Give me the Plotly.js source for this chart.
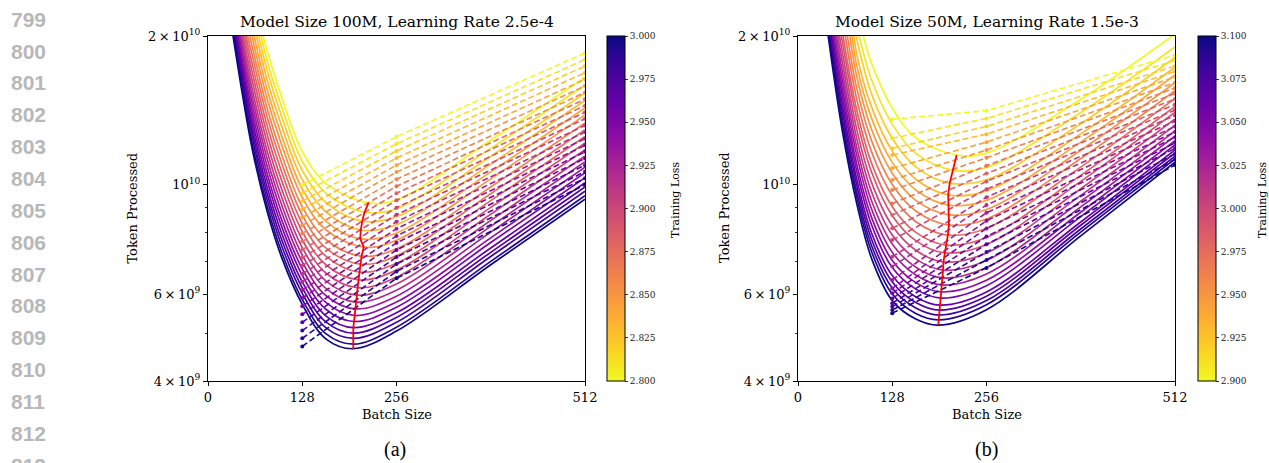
<!DOCTYPE html>
<html><head><meta charset="utf-8">
<script src="https://cdn.plot.ly/plotly-3.0.1.min.js"></script>
<style>html,body{margin:0;padding:0;background:#fff;}#chart{width:1269px;height:463px;}</style>
</head><body><div id="chart"></div>
<script>
// ---------------- DATA (token counts in units of 1e9) ----------------
const lossA = [2.80,2.81,2.82,2.83,2.84,2.85,2.86,2.87,2.88,2.89,2.90,2.91,2.92,2.93,2.94,2.95,2.96,2.97,2.98,2.99,3.00];
const lossB = [2.90,2.91,2.92,2.93,2.94,2.95,2.96,2.97,2.98,2.99,3.00,3.01,3.02,3.03,3.04,3.05,3.06,3.07,3.08,3.09,3.10];

// batch sizes at which the fitted (solid) curves are sampled
const fitBatch = [60, 80, 100, 128, 160, 256, 384, 512];
// batch size at which each fitted curve leaves the top of the frame (tokens = 20e9)
const topTokens = 20;
const fitTopBatchA = [75,72.2,69,65.8,62.6,59.7,56.5,53.7,51.5,49.5,47.3,45.5,43.9,42.3,40.9,39.7,38.5,37.4,36.2,35.1,34];
const fitTopBatchB = [88.7,83.1,78.9,75.9,73.2,70.3,67.1,64.2,61.2,58.9,56.4,54.2,52.2,50.3,48.4,47,45.5,44.4,43.3,42.2,41];

const fitTokensA = [
 [null,18.75,15.06,11.67,10.06,9.31,12.30,16.51],
 [null,17.89,14.38,11.15,9.61,8.94,11.84,15.91],
 [null,17.10,13.74,10.68,9.20,8.61,11.41,15.34],
 [null,16.35,13.14,10.23,8.81,8.29,11.01,14.81],
 [null,15.63,12.56,9.80,8.43,7.98,10.61,14.29],
 [null,15.00,12.05,9.42,8.10,7.71,10.27,13.83],
 [19.05,14.33,11.51,9.01,7.74,7.41,9.89,13.33],
 [18.30,13.76,11.06,8.67,7.44,7.17,9.58,12.92],
 [17.57,13.21,10.62,8.34,7.16,6.93,9.28,12.52],
 [16.90,12.69,10.20,8.03,6.88,6.71,8.99,12.14],
 [16.24,12.20,9.80,7.73,6.62,6.49,8.71,11.77],
 [15.63,11.74,9.44,7.45,6.38,6.29,8.46,11.43],
 [15.10,11.33,9.10,7.20,6.16,6.11,8.23,11.13],
 [14.59,10.94,8.79,6.97,5.96,5.94,8.01,10.84],
 [14.09,10.57,8.49,6.75,5.77,5.78,7.80,10.57],
 [13.63,10.24,8.23,6.55,5.59,5.64,7.63,10.33],
 [13.21,9.91,7.97,6.35,5.42,5.50,7.44,10.09],
 [12.85,9.63,7.74,6.18,5.27,5.38,7.29,9.89],
 [12.49,9.36,7.52,6.02,5.13,5.26,7.15,9.70],
 [12.10,9.08,7.30,5.85,4.99,5.14,6.99,9.49],
 [11.82,8.86,7.12,5.72,4.87,5.05,6.88,9.34]
];
const fitTokensB = [
 [null,null,17.58,14.29,12.44,11.58,14.89,20.18],
 [null,null,16.29,13.26,11.57,10.83,14.00,19.01],
 [null,null,15.25,12.41,10.86,10.23,13.28,18.09],
 [null,18.29,14.35,11.69,10.25,9.71,12.67,17.30],
 [null,17.36,13.62,11.09,9.75,9.29,12.19,16.67],
 [null,16.50,12.93,10.54,9.29,8.90,11.74,16.08],
 [null,15.63,12.26,10.00,8.84,8.52,11.29,15.50],
 [null,14.84,11.64,9.50,8.41,8.16,10.85,14.94],
 [null,14.11,11.04,9.02,8.00,7.81,10.44,14.40],
 [19.57,13.54,10.59,8.65,7.70,7.56,10.15,14.02],
 [18.63,12.89,10.09,8.25,7.36,7.27,9.81,13.58],
 [17.79,12.35,9.66,7.90,7.07,7.02,9.51,13.20],
 [17.02,11.85,9.26,7.58,6.80,6.79,9.25,12.85],
 [16.35,11.42,8.91,7.29,6.56,6.59,9.01,12.55],
 [15.72,10.97,8.57,7.02,6.33,6.40,8.79,12.27],
 [15.17,10.62,8.28,6.79,6.14,6.24,8.61,12.03],
 [14.59,10.23,7.97,6.54,5.92,6.06,8.40,11.75],
 [14.15,9.95,7.74,6.35,5.77,5.94,8.27,11.59],
 [13.70,9.65,7.52,6.17,5.62,5.82,8.13,11.42],
 [13.30,9.40,7.31,6.00,5.48,5.71,8.01,11.27],
 [12.89,9.12,7.08,5.82,5.34,5.58,7.87,11.10]
];

// optimal batch (minimum of each fitted curve) -> red line
const optBatchA = [218,212.5,209.5,207.5,206.8,211.5,208.5,207,205.5,204.3,203.2,202.2,201,199.8,199,198,197.4,197.3,197.3,197.3,197.3];
const optTokensA = [9.18,8.79,8.43,8.09,7.76,7.47,7.16,6.90,6.65,6.41,6.18,5.97,5.78,5.60,5.43,5.28,5.13,5.00,4.88,4.75,4.65];
const optBatchB = [215.5,210,206,204,204.5,205.5,205,203.5,201,199,197.5,197,196,195.5,195,194,193,192.3,191.8,191.2,190.5];
const optTokensB = [11.48,10.70,10.07,9.53,9.09,8.68,8.28,7.90,7.54,7.27,6.97,6.71,6.47,6.26,6.06,5.89,5.70,5.57,5.44,5.32,5.19];

// measured runs (dashed)
const runBatch = [128, 256, 512];
const runTokensA = [
 [9.98,12.50,18.48],[9.61,12.09,17.92],[9.26,11.70,17.38],[8.91,11.32,16.85],[8.58,10.95,16.34],
 [8.27,10.60,15.84],[7.96,10.25,15.36],[7.67,9.92,14.90],[7.38,9.60,14.45],[7.11,9.29,14.01],
 [6.85,8.98,13.59],[6.59,8.69,13.18],[6.35,8.41,12.78],[6.11,8.14,12.39],[5.89,7.87,12.01],
 [5.67,7.62,11.65],[5.46,7.37,11.30],[5.26,7.13,10.95],[5.06,6.90,10.62],[4.88,6.67,10.30],[4.70,6.46,9.99]
];
const runTokensB = [
 [13.56,14.12,18.30],[12.41,13.61,17.84],[11.84,13.12,17.39],[11.48,12.65,16.95],[10.79,12.19,16.52],
 [10.22,11.75,16.10],[9.75,11.33,15.69],[9.16,10.92,15.29],[8.68,10.53,14.91],[8.16,10.15,14.53],
 [7.72,9.79,14.16],[7.14,9.43,13.80],[6.82,9.09,13.45],[6.41,8.77,13.11],[6.16,8.45,12.78],
 [6.02,8.15,12.46],[5.88,7.85,12.14],[5.75,7.57,11.84],[5.66,7.30,11.54],[5.57,7.03,11.24],[5.49,6.78,10.96]
];

// axis ticks
const xTicks = [0, 128, 256, 512];
const yTicks = [4, 6, 10, 20];
const yTickText = ['4\u2009\u00d7\u200910<sup>9</sup>', '6\u2009\u00d7\u200910<sup>9</sup>', '10<sup>10</sup>', '2\u2009\u00d7\u200910<sup>10</sup>'];
const yMinorTicks = [5, 7, 8, 9];
const cbTicksA = [2.800,2.825,2.850,2.875,2.900,2.925,2.950,2.975,3.000];
const cbTicksB = [2.900,2.925,2.950,2.975,3.000,3.025,3.050,3.075,3.100];
const titleA = 'Model Size 100M, Learning Rate 2.5e-4';
const titleB = 'Model Size 50M, Learning Rate 1.5e-3';
const lineNumbers = [799,800,801,802,803,804,805,806,807,808,809,810,811,812,813];

// ---------------- STYLE ----------------
const W = 1269, H = 463;
const FONT = 'DejaVu Serif';
const PLASMA = [[0,'#0d0887'],[0.1,'#41049d'],[0.2,'#6a00a8'],[0.3,'#8f0da4'],[0.4,'#b12a90'],
  [0.5,'#cc4778'],[0.6,'#e16462'],[0.7,'#f2844b'],[0.8,'#fca636'],[0.9,'#fcce25'],[1,'#f0f921']];
function hex2rgb(h){return [parseInt(h.substr(1,2),16),parseInt(h.substr(3,2),16),parseInt(h.substr(5,2),16)];}
function plasmaAt(v){
  v = Math.max(0, Math.min(1, v));
  for (let k = 0; k < PLASMA.length - 1; k++) {
    const a = PLASMA[k], b = PLASMA[k+1];
    if (v <= b[0]) {
      const t = (v - a[0]) / (b[0] - a[0]);
      const ca = hex2rgb(a[1]), cb = hex2rgb(b[1]);
      return 'rgb(' + ca.map((c, j) => Math.round(c + (cb[j] - c) * t)).join(',') + ')';
    }
  }
  return PLASMA[PLASMA.length-1][1];
}
const px = x => x / W;
const py = y => 1 - y / H;

function panelTraces(loss, topB, fitT, optB, optT, runT, xa, ya) {
  const lo = Math.min(...loss), hi = Math.max(...loss);
  const col = L => plasmaAt(1 - (L - lo) / (hi - lo));
  const traces = [];
  loss.forEach((L, i) => {
    const pts = [[topB[i], topTokens], [optB[i], optT[i]]];
    fitBatch.forEach((b, j) => { if (fitT[i][j] !== null && b > topB[i]) pts.push([b, fitT[i][j]]); });
    pts.sort((p, q) => p[0] - q[0]);
    traces.push({type:'scatter', mode:'lines', x: pts.map(p=>p[0]), y: pts.map(p=>p[1]),
      xaxis: xa, yaxis: ya, line:{color: col(L), width:1.7, shape:'spline', smoothing:1}, hoverinfo:'skip'});
  });
  loss.forEach((L, i) => {
    traces.push({type:'scatter', mode:'lines+markers', x: runBatch, y: runT[i], xaxis: xa, yaxis: ya,
      line:{color: col(L), width:1.6, dash:'6px,3px'}, marker:{color: col(L), size:4}, hoverinfo:'skip'});
  });
  traces.push({type:'scatter', mode:'lines', x: optB, y: optT, xaxis: xa, yaxis: ya,
    line:{color:'#ff0000', width:1.8}, hoverinfo:'skip'});
  return traces;
}

function cbTrace(loss, ticks, xa, ya, xLeft) {
  return {type:'scatter', mode:'markers', x:[-1000], y:[1], xaxis: xa, yaxis: ya, hoverinfo:'skip',
    marker:{color:[loss[0]], opacity:0, colorscale: PLASMA, reversescale: true,
      cmin: Math.min(...loss), cmax: Math.max(...loss), showscale: true,
      colorbar:{x: px(xLeft), xanchor:'left', xpad:0, y: py(36), yanchor:'top', ypad:0,
        len:345, lenmode:'pixels', thickness:18, thicknessmode:'pixels',
        outlinewidth:1, outlinecolor:'#000', borderwidth:0,
        tickmode:'array', tickvals: ticks, ticktext: ticks.map(t=>t.toFixed(3)),
        ticks:'outside', ticklen:3, tickwidth:0.8, tickcolor:'#000',
        tickfont:{family: FONT, size:9, color:'#222'}}}};
}

const data = [].concat(
  panelTraces(lossA, fitTopBatchA, fitTokensA, optBatchA, optTokensA, runTokensA, 'x', 'y'),
  panelTraces(lossB, fitTopBatchB, fitTokensB, optBatchB, optTokensB, runTokensB, 'x2', 'y2'),
  [cbTrace(lossA, cbTicksA, 'x', 'y', 607.3), cbTrace(lossB, cbTicksB, 'x2', 'y2', 1198.3)]
);

function xAxis(l, r, anchor) {
  return {domain:[px(l), px(r)], anchor: anchor, range:[0,512], tickmode:'array', tickvals: xTicks,
    ticks:'outside', ticklen:4, tickwidth:1, tickcolor:'#000', showline:true, linecolor:'#000', linewidth:1,
    mirror:true, showgrid:false, zeroline:false, tickfont:{family:FONT, size:13, color:'#000'}, fixedrange:true};
}
function yAxis(anchor) {
  return {domain:[1 - 381/H, 1 - 36/H], anchor: anchor, type:'log', range:[Math.log10(4), Math.log10(20)],
    tickmode:'array', tickvals: yTicks, ticktext: yTickText,
    minor:{tickmode:'array', tickvals: yMinorTicks, ticks:'outside', ticklen:2, tickwidth:0.8, tickcolor:'#000'},
    ticks:'outside', ticklen:4, tickwidth:1, tickcolor:'#000', showline:true, linecolor:'#000', linewidth:1,
    mirror:true, showgrid:false, zeroline:false, tickfont:{family:FONT, size:13, color:'#000'}, fixedrange:true};
}

const ann = [];
function text(t, x, y, size, opts) {
  ann.push(Object.assign({text: t, x: px(x), y: py(y), xref:'paper', yref:'paper', showarrow:false,
    xanchor:'center', yanchor:'middle', font:{family: FONT, size: size, color:'#000'}}, opts || {}));
}
text(titleA, 396.5, 22, 15.5);
text(titleB, 986.5, 22, 15.5);
text('Batch Size', 396.5, 414, 13);
text('Batch Size', 986.5, 414, 13);
text('Token Processed', 131.6, 208, 13, {textangle:-90});
text('Token Processed', 724, 208, 13, {textangle:-90});
text('Training Loss', 675, 200, 11, {textangle:-90});
text('Training Loss', 1262, 200, 11, {textangle:-90});
text('(a)', 395, 449, 20, {font:{family:'Liberation Serif', size:20, color:'#000'}});
text('(b)', 986, 449, 20, {font:{family:'Liberation Serif', size:20, color:'#000'}});
lineNumbers.forEach((n, k) => text(String(n), 9, 19.2 + 31.85 * k, 21,
  {xanchor:'left', font:{family:'Liberation Sans', size:21, color:'#b8b8b8', weight:700}}));

const layout = {
  width: W, height: H, margin:{l:0, r:0, t:0, b:0}, showlegend:false,
  paper_bgcolor:'#fff', plot_bgcolor:'#fff', hovermode:false,
  xaxis: xAxis(208, 585, 'y'), yaxis: yAxis('x'),
  xaxis2: xAxis(798, 1175, 'y2'), yaxis2: yAxis('x2'),
  annotations: ann
};
Plotly.newPlot('chart', data, layout, {staticPlot:true, displayModeBar:false});
</script></body></html>
